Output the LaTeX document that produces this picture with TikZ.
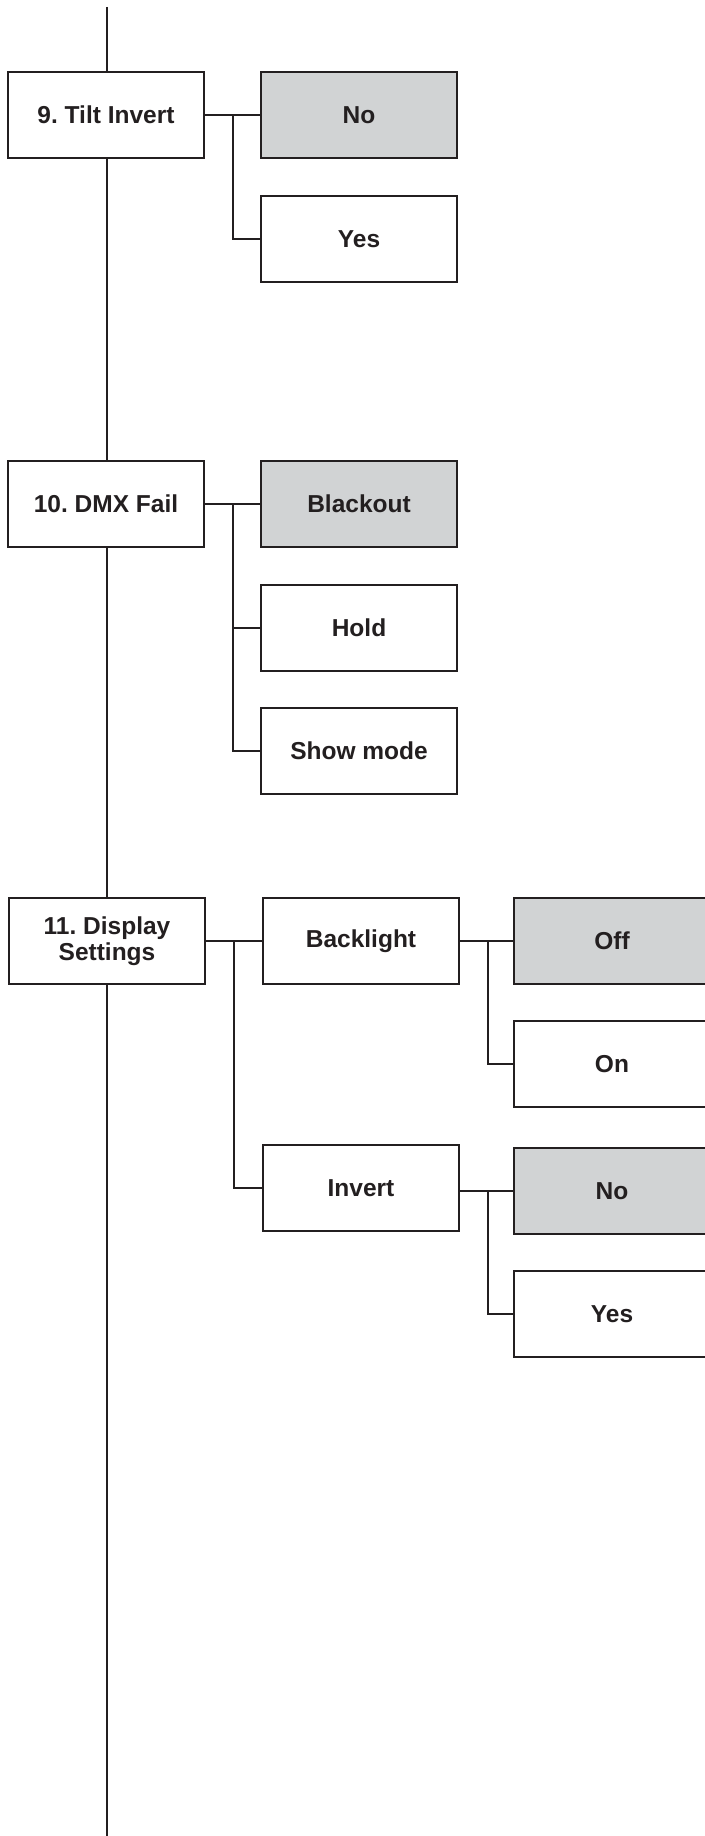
\documentclass[tikz,border=0pt]{standalone}
\usepackage{fontspec}
\setmainfont{Liberation Sans}
\frenchspacing
\definecolor{ink}{HTML}{231F20}
\definecolor{selgray}{HTML}{D1D3D4}
\begin{document}
\begin{tikzpicture}[x=1pt,y=-1pt,
  menubox/.style={draw=ink,line width=2pt,minimum width=196pt,minimum height=86pt,
    inner sep=0pt,outer sep=0pt,align=center,text=ink,
    font=\fontsize{24.5}{26}\selectfont\bfseries},
  selbox/.style={menubox,fill=selgray},
  conn/.style={draw=ink,line width=2pt}]
\useasboundingbox (0,0) rectangle (704,1836);
% column 1
\node[menubox] (m9) at (106,115) {9. Tilt Invert};
\node[menubox] (m10) at (106,504) {10. DMX Fail};
\node[menubox] (m11) at (107,941) {11. Display\\Settings};
\coordinate (ltop) at (107,7);
\coordinate (lbot) at (107,1836);
% column 2
\node[selbox] (no9) at (359,115) {No};
\node[menubox] (yes9) at (359,239) {Yes};
\node[selbox] (black) at (359,504) {Blackout};
\node[menubox] (hold) at (359,628) {Hold};
\node[menubox] (show) at (359,751) {Show mode};
\node[menubox] (back) at (361,941) {Backlight};
\node[menubox] (inv) at (361,1188) {Invert};
% column 3
\node[selbox] (off) at (612,941) {Off};
\node[menubox] (on) at (612,1064) {On};
\node[selbox] (no11) at (612,1191) {No};
\node[menubox] (yes11) at (612,1314) {Yes};
% branch points
\coordinate (b9) at (233,115);
\coordinate (b10) at (233,504);
\coordinate (b11) at (234,941);
\coordinate (bb) at (488,941);
\coordinate (bi) at (488,1191);
% main spine
\draw[conn] (ltop) -- (ltop |- m9.north);
\draw[conn] (ltop |- m9.south) -- (ltop |- m10.north);
\draw[conn] (ltop |- m10.south) -- (ltop |- m11.north);
\draw[conn] (ltop |- m11.south) -- (lbot);
% 9
\draw[conn] (m9.east) -- (no9.west);
\draw[conn] (b9) |- (yes9.west);
% 10
\draw[conn] (m10.east) -- (black.west);
\draw[conn] (b10) |- (show.west);
\draw[conn] (b10 |- hold.west) -- (hold.west);
% 11
\draw[conn] (m11.east) -- (back.west);
\draw[conn] (b11) |- (inv.west);
\draw[conn] (back.east) -- (off.west);
\draw[conn] (bb) |- (on.west);
\draw[conn] (inv.east |- no11.west) -- (no11.west);
\draw[conn] (bi) |- (yes11.west);
\end{tikzpicture}
\end{document}
